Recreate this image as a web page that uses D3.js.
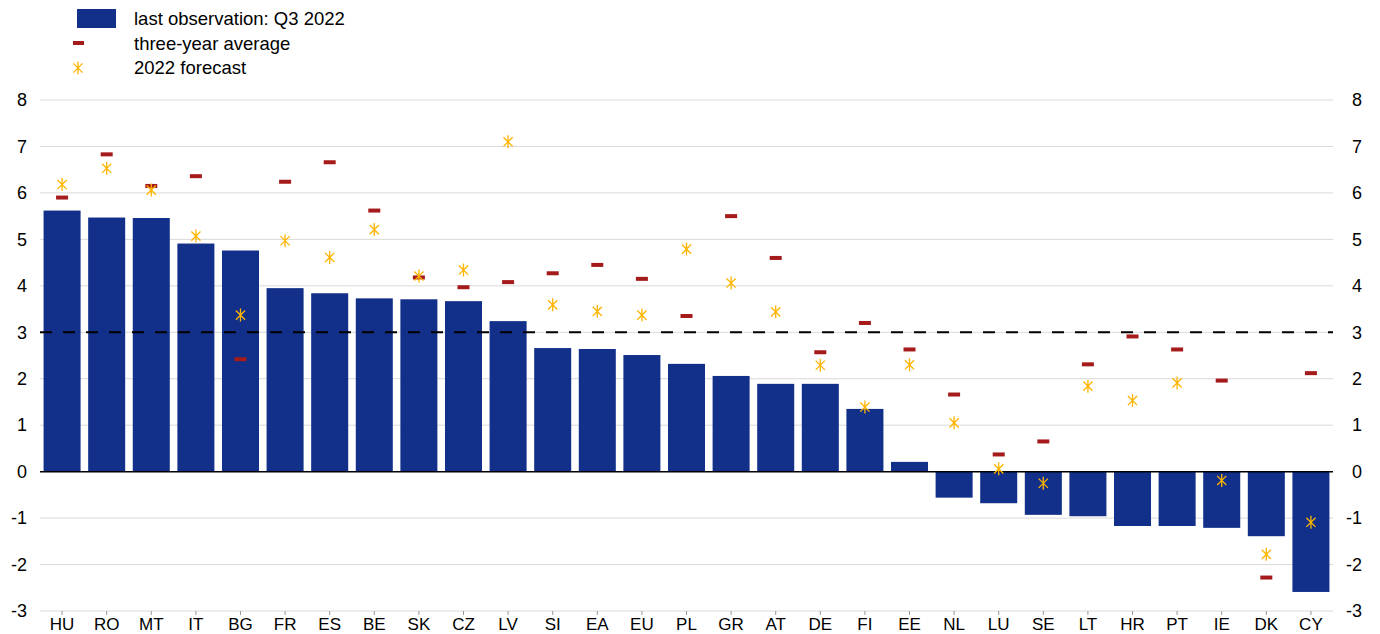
<!doctype html>
<html lang="en">
<head>
<meta charset="utf-8">
<script src="https://d3js.org/d3.v7.min.js"></script>
<style>
  body { margin: 0; background: white; }
  svg { display: block; font-family: "Liberation Sans", Arial, sans-serif; }
</style>
</head>
<body>
<svg id="chart" width="1380" height="634"></svg>
<script>
// countries, left to right
var countries = ["HU","RO","MT","IT","BG","FR","ES","BE","SK","CZ","LV","SI","EA","EU","PL","GR","AT","DE","FI","EE","NL","LU","SE","LT","HR","PT","IE","DK","CY"];
// last observation: Q3 2022
var lastObs = [5.62,5.47,5.46,4.91,4.76,3.95,3.84,3.73,3.71,3.67,3.24,2.66,2.64,2.51,2.32,2.06,1.89,1.89,1.35,0.21,-0.56,-0.68,-0.93,-0.96,-1.17,-1.17,-1.21,-1.39,-2.59];
// three-year average
var threeYear = [5.90,6.83,6.15,6.36,2.42,6.24,6.66,5.62,4.18,3.97,4.08,4.27,4.45,4.15,3.35,5.50,4.60,2.57,3.20,2.63,1.66,0.37,0.65,2.31,2.91,2.63,1.96,-2.28,2.12];
// 2022 forecast
var forecast = [6.18,6.53,6.06,5.07,3.37,4.97,4.61,5.21,4.21,4.34,7.10,3.59,3.45,3.37,4.79,4.06,3.44,2.29,1.39,2.30,1.05,0.06,-0.25,1.84,1.53,1.91,-0.19,-1.78,-1.09];
var yTicks = [-3,-2,-1,0,1,2,3,4,5,6,7,8];
var threshold = 3;

var blue = "#12308a", red = "#a51b1b", gold = "#ffb400";
var svg = d3.select("#chart");

var x = d3.scaleBand().domain(countries).range([40, 1333]).paddingInner(0.17).paddingOuter(0.08);
var y = d3.scaleLinear().domain([-3, 8]).range([611, 100]);

// gridlines
svg.append("g").selectAll("line").data(yTicks).enter().append("line")
  .attr("x1", 40).attr("x2", 1333)
  .attr("y1", function(d) { return y(d); }).attr("y2", function(d) { return y(d); })
  .attr("stroke", "#d9d9d9").attr("stroke-width", 1);

// axes labels both sides (plain hyphen for minus, like the original)
var left = svg.append("g").attr("transform", "translate(27,0)").call(d3.axisLeft(y).tickValues(yTicks).tickSize(0).tickPadding(0).tickFormat(function(d) { return String(d); }));
var right = svg.append("g").attr("transform", "translate(1362,0)").call(d3.axisLeft(y).tickValues(yTicks).tickSize(0).tickPadding(0).tickFormat(function(d) { return String(d); }));
[left, right].forEach(function(a) {
  a.select(".domain").remove();
  a.selectAll("text").attr("font-size", 18).attr("font-family", "Liberation Sans, Arial, sans-serif").attr("fill", "#000");
});

// bars
var rows = countries.map(function(c, i) { return {c: c, v: lastObs[i], a: threeYear[i], f: forecast[i]}; });
svg.append("g").selectAll("rect").data(rows).enter().append("rect")
  .attr("x", function(d) { return x(d.c); })
  .attr("width", x.bandwidth())
  .attr("y", function(d) { return y(Math.max(0, d.v)); })
  .attr("height", function(d) { return Math.abs(y(d.v) - y(0)); })
  .attr("fill", blue);

// zero line and threshold
svg.append("line").attr("x1", 40).attr("x2", 1333).attr("y1", y(0)).attr("y2", y(0)).attr("stroke", "#000").attr("stroke-width", 1.5);
svg.append("line").attr("x1", 40).attr("x2", 1333).attr("y1", y(threshold)).attr("y2", y(threshold))
  .attr("stroke", "#000").attr("stroke-width", 2).attr("stroke-dasharray", "12,11");

// x axis
var xa = svg.append("g").attr("transform", "translate(0,611)").call(d3.axisBottom(x).tickSize(4).tickPadding(0));
xa.select(".domain").remove();
xa.selectAll("line").attr("stroke", "#999");
xa.selectAll("text").attr("y", 19).attr("dy", 0).attr("font-size", 17).attr("font-family", "Liberation Sans, Arial, sans-serif").attr("fill", "#000");

// three-year average dashes
svg.append("g").selectAll("rect").data(rows).enter().append("rect")
  .attr("x", function(d) { return x(d.c) + x.bandwidth() / 2 - 6; })
  .attr("y", function(d) { return y(d.a) - 2; })
  .attr("width", 12).attr("height", 4).attr("fill", red);

// forecast stars: vertical bar plus an X
function star(g, cx, cy) {
  var r = 6.5, q = 4.6;
  var p = "M" + cx + "," + (cy - r) + "L" + cx + "," + (cy + r) +
    "M" + (cx - q) + "," + (cy - q) + "L" + (cx + q) + "," + (cy + q) +
    "M" + (cx - q) + "," + (cy + q) + "L" + (cx + q) + "," + (cy - q);
  g.append("path").attr("d", p).attr("stroke", gold).attr("stroke-width", 1.3).attr("fill", "none");
}
var sg = svg.append("g");
rows.forEach(function(d) { star(sg, x(d.c) + x.bandwidth() / 2, y(d.f)); });

// legend
var lg = svg.append("g").attr("font-size", 18.5).attr("font-family", "Liberation Sans, Arial, sans-serif");
lg.append("rect").attr("x", 77).attr("y", 9).attr("width", 39).attr("height", 19).attr("fill", blue);
lg.append("text").attr("x", 134).attr("y", 25).text("last observation: Q3 2022");
lg.append("rect").attr("x", 73).attr("y", 41).attr("width", 11).attr("height", 4).attr("fill", red);
lg.append("text").attr("x", 134).attr("y", 50).text("three-year average");
star(lg, 78, 68);
lg.append("text").attr("x", 134).attr("y", 74).text("2022 forecast");
</script>
</body>
</html>
